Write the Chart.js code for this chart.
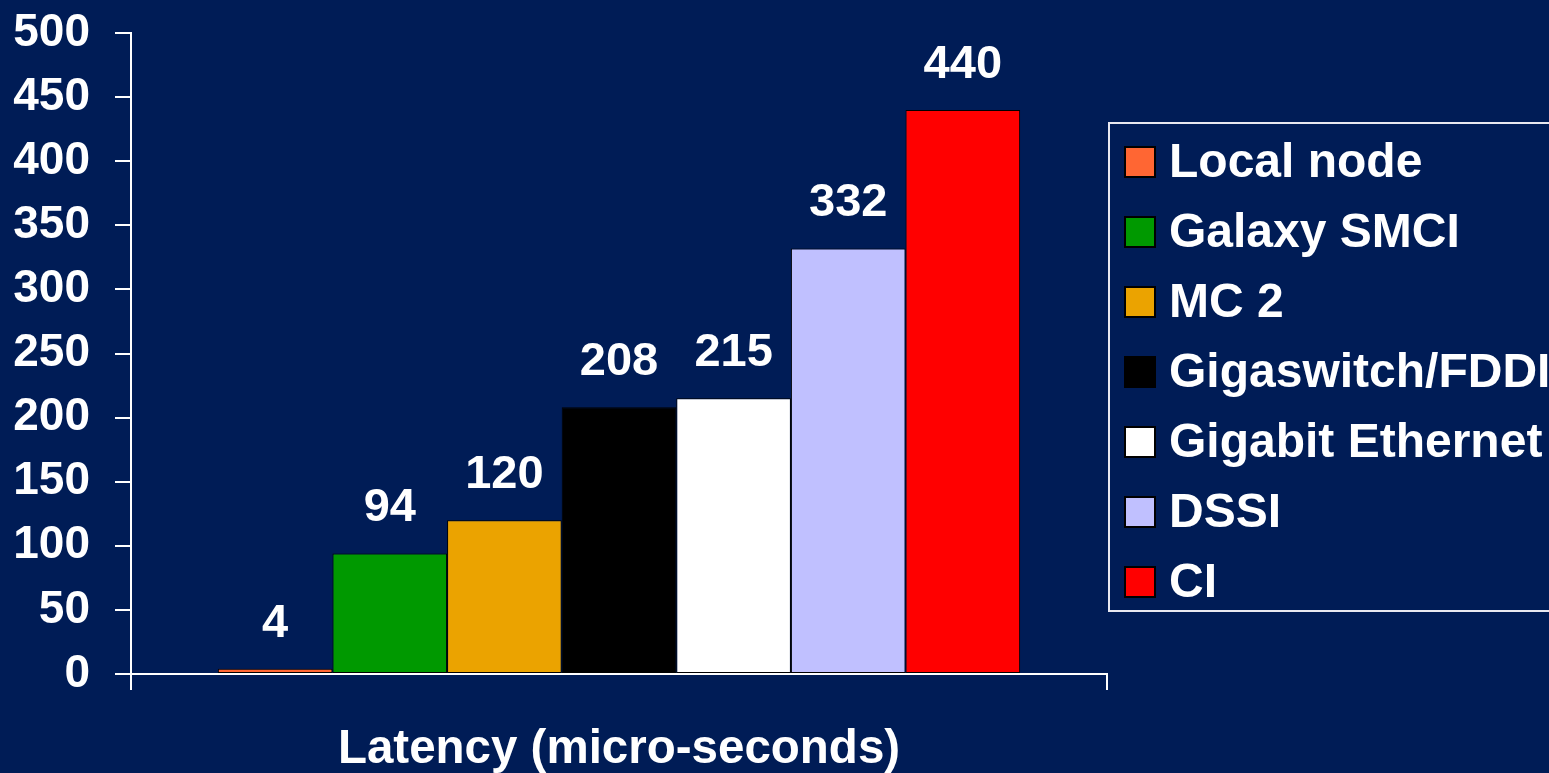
<!DOCTYPE html>
<html>
<head>
<meta charset="utf-8">
<script src="https://cdn.jsdelivr.net/npm/chart.js@4/dist/chart.umd.min.js"></script>
<style>
  html, body { margin: 0; padding: 0; background: #001c56; overflow: hidden; }
  #wrap { width: 1549px; height: 773px; position: relative; }
</style>
</head>
<body>
<div id="wrap"><canvas id="chart"></canvas></div>
<script>
const categories = ['Latency (micro-seconds)'];
const seriesNames = ['Local node', 'Galaxy SMCI', 'MC 2', 'Gigaswitch/FDDI', 'Gigabit Ethernet', 'DSSI', 'CI'];
const latencyValues = [4, 94, 120, 208, 215, 332, 440];
const seriesColors = ['#ff6633', '#009900', '#eba300', '#000000', '#ffffff', '#c0c0ff', '#ff0000'];
const yMin = 0;
const yMax = 500;
const yStep = 50;

const FONT = '"Liberation Sans", Arial, sans-serif';

// value labels above each bar
const valueLabels = {
  id: 'valueLabels',
  afterDatasetsDraw(chart) {
    const ctx = chart.ctx;
    ctx.save();
    ctx.fillStyle = '#ffffff';
    ctx.font = 'bold 47px ' + FONT;
    ctx.textAlign = 'center';
    ctx.textBaseline = 'alphabetic';
    chart.data.datasets.forEach((ds, i) => {
      const meta = chart.getDatasetMeta(i);
      meta.data.forEach((bar, j) => {
        ctx.fillText(String(ds.data[j]), bar.x, bar.y - 32);
      });
    });
    ctx.restore();
  }
};

// boxed legend on the right, as in the slide
const boxLegend = {
  id: 'boxLegend',
  afterDraw(chart) {
    const ctx = chart.ctx;
    const left = chart.chartArea.right + 2;
    const top = 123;
    const rowH = 70;
    ctx.save();
    ctx.strokeStyle = '#e8e8f0';
    ctx.lineWidth = 2;
    ctx.strokeRect(left, top, 600, rowH * chart.data.datasets.length - 2);
    ctx.font = 'bold 48px ' + FONT;
    ctx.textBaseline = 'middle';
    chart.data.datasets.forEach((ds, i) => {
      const cy = top + 39 + i * rowH;
      ctx.fillStyle = ds.backgroundColor;
      ctx.fillRect(left + 16, cy - 15, 30, 30);
      ctx.strokeStyle = '#000000';
      ctx.lineWidth = 2;
      ctx.strokeRect(left + 16, cy - 15, 30, 30);
      ctx.fillStyle = '#ffffff';
      ctx.fillText(ds.label, left + 60, cy + 2);
    });
    ctx.restore();
  }
};

new Chart(document.getElementById('chart'), {
  type: 'bar',
  data: {
    labels: categories,
    datasets: seriesNames.map((name, i) => ({
      label: name,
      data: [latencyValues[i]],
      backgroundColor: seriesColors[i],
      borderColor: '#000000',
      borderWidth: 1,
      borderSkipped: false
    }))
  },
  options: {
    responsive: true,
    maintainAspectRatio: false,
    animation: false,
    layout: { padding: { top: 33, right: 442, bottom: 0, left: 0 } },
    datasets: {
      bar: { categoryPercentage: 0.822, barPercentage: 1.0 }
    },
    plugins: {
      legend: { display: false },
      tooltip: { enabled: false }
    },
    scales: {
      x: {
        offset: true,
        afterFit(s) { s.height = 99; },
        border: { color: '#ffffff', width: 2 },
        grid: {
          offset: true,
          drawOnChartArea: false,
          drawTicks: true,
          tickLength: 16,
          color: '#ffffff',
          lineWidth: 2
        },
        ticks: {
          color: '#ffffff',
          font: { family: FONT, size: 47.5, weight: 'bold' },
          padding: 31,
          maxRotation: 0
        }
      },
      y: {
        min: yMin,
        max: yMax,
        afterFit(s) {
          s.width = 131;
          s.paddingTop = 0;
          s.paddingBottom = 0;
        },
        border: { color: '#ffffff', width: 2 },
        grid: {
          drawOnChartArea: false,
          drawTicks: true,
          tickLength: 16,
          color: '#ffffff',
          lineWidth: 2
        },
        ticks: {
          stepSize: yStep,
          color: '#ffffff',
          font: { family: FONT, size: 46, weight: 'bold' },
          padding: 25
        }
      }
    }
  },
  plugins: [valueLabels, boxLegend]
});
</script>
</body>
</html>
